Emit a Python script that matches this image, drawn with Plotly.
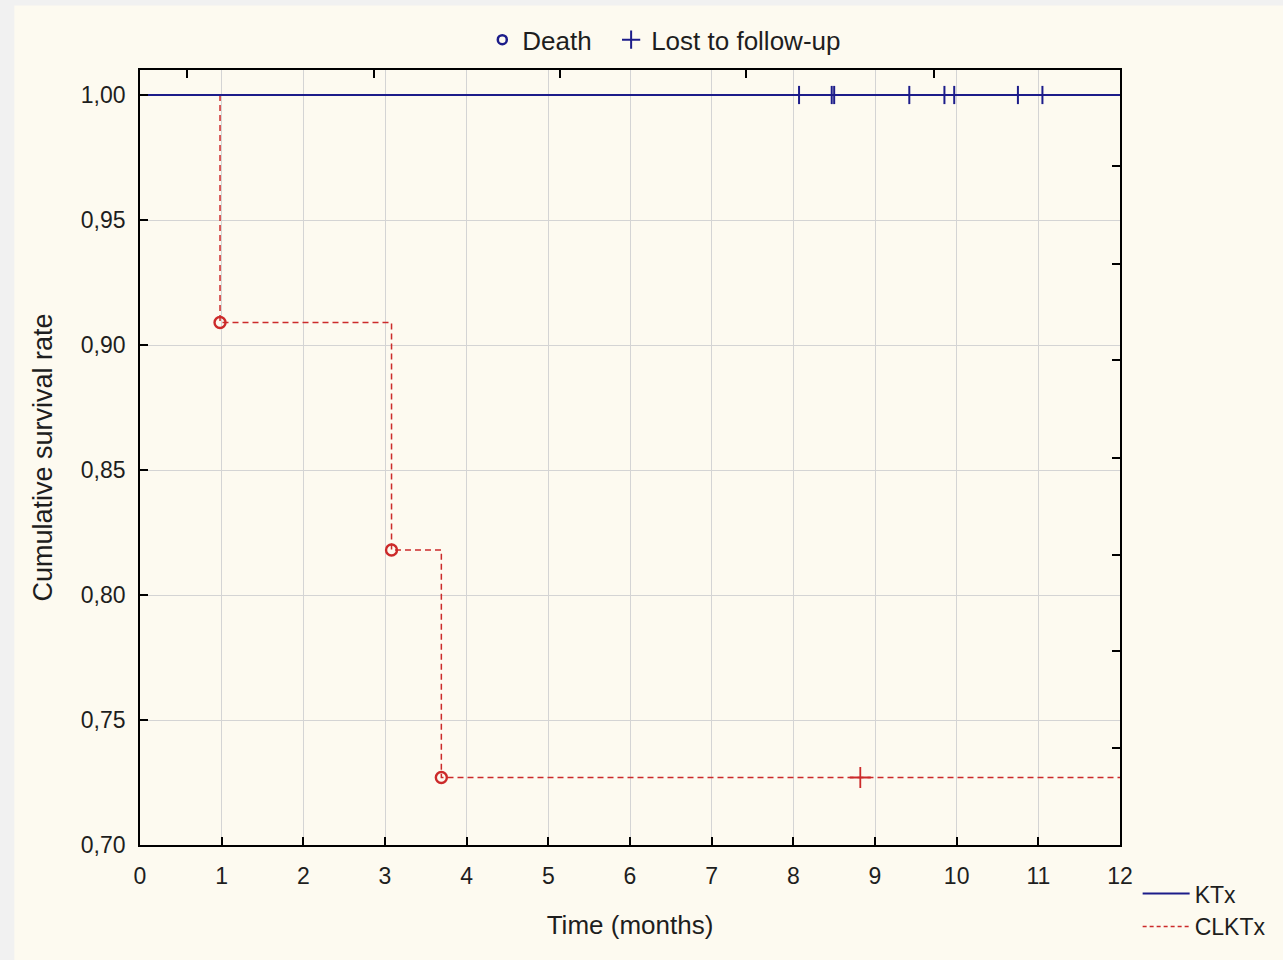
import plotly.graph_objects as go

# ---- data ----
ktx_time = [0, 12]
ktx_surv = [1.0, 1.0]
ktx_censor_time = [8.07, 8.47, 8.50, 9.42, 9.85, 9.97, 10.75, 11.05]
ktx_censor_surv = [1.0, 1.0, 1.0, 1.0, 1.0, 1.0, 1.0, 1.0]

clktx_time = [0, 0.98, 3.08, 3.69, 12]
clktx_surv = [1.0, 0.909, 0.818, 0.727, 0.727]
clktx_death_time = [0.98, 3.08, 3.69]
clktx_death_surv = [0.909, 0.818, 0.727]
clktx_censor_time = [8.82]
clktx_censor_surv = [0.727]

x_ticks = list(range(0, 13))
y_ticks = [0.70, 0.75, 0.80, 0.85, 0.90, 0.95, 1.00]
top_ticks = [0.57, 2.86, 5.14, 7.42, 9.72]
right_ticks = [0.9718, 0.9324, 0.8940, 0.8547, 0.8161, 0.7777, 0.7387]

NAVY = "#1c1c8a"
RED = "#cc2a2a"
TXT = "#1e1e1e"
FONT = "Liberation Sans, Arial, sans-serif"
NBSP = "\u00a0"

fig = go.Figure()

# CLKTx step line
fig.add_trace(go.Scatter(x=clktx_time, y=clktx_surv, mode="lines", line_shape="hv",
                         line=dict(color=RED, width=1.5, dash="6px,4px"),
                         showlegend=False))
# KTx line
fig.add_trace(go.Scatter(x=ktx_time, y=ktx_surv, mode="lines", line_shape="hv",
                         line=dict(color=NAVY, width=2),
                         showlegend=False))
# censor marks KTx
fig.add_trace(go.Scatter(x=ktx_censor_time, y=ktx_censor_surv, mode="markers",
                         marker=dict(symbol="line-ns", size=13, line=dict(color=NAVY, width=2)),
                         showlegend=False))
# deaths CLKTx
fig.add_trace(go.Scatter(x=clktx_death_time, y=clktx_death_surv, mode="markers",
                         marker=dict(symbol="circle-open", size=11, color=RED, line=dict(color=RED, width=2.4)),
                         showlegend=False))
# censor CLKTx
fig.add_trace(go.Scatter(x=clktx_censor_time, y=clktx_censor_surv, mode="markers",
                         marker=dict(symbol="cross-thin", size=15, line=dict(color=RED, width=1.8)),
                         showlegend=False))

# top legend entries
fig.add_trace(go.Scatter(x=[None], y=[None], mode="markers", name="Death" + NBSP * 2,
                         marker=dict(symbol="circle-open", size=9, color=NAVY, line=dict(color=NAVY, width=2.5)),
                         legend="legend"))
fig.add_trace(go.Scatter(x=[None], y=[None], mode="markers", name="Lost to follow-up",
                         marker=dict(symbol="cross-thin", size=13, line=dict(color=NAVY, width=2)),
                         legend="legend"))
# bottom-right legend entries
fig.add_trace(go.Scatter(x=[None], y=[None], mode="lines", name="KTx",
                         line=dict(color=NAVY, width=2), legend="legend2"))
fig.add_trace(go.Scatter(x=[None], y=[None], mode="lines", name="CLKTx",
                         line=dict(color=RED, width=1.5, dash="4px,3px"), legend="legend2"))

# secondary axes holder (for top / right ticks)
fig.add_trace(go.Scatter(x=[None], y=[None], xaxis="x2", yaxis="y2", showlegend=False, hoverinfo="skip"))

# background: gray outer strip + cream paper (14px left strip, 4px top strip)
fig.add_shape(type="rect", xref="paper", yref="paper", x0=-0.1283, x1=1.3, y0=-0.3, y1=1.0831,
              fillcolor="#fdfaf0", line=dict(width=0), layer="below")

fig.update_layout(
    width=1283, height=960, autosize=False,
    margin=dict(l=140, r=161, t=70, b=96),
    paper_bgcolor="#f1f1f1",
    plot_bgcolor="#ffffff",
    separators=", ",
    font=dict(family=FONT, size=23, color=TXT),
    xaxis=dict(range=[0, 12], tickvals=x_ticks, ticks="inside", ticklen=8, tickwidth=1.5,
               tickcolor="#000", showline=True, mirror=True, linecolor="#000", linewidth=1.6,
               showgrid=True, gridcolor="#d4d4d4", gridwidth=1, zeroline=False,
               ticklabelstandoff=10,
               tickfont=dict(size=23, color=TXT),
               title=dict(text="Time (months)", font=dict(size=26, color=TXT), standoff=27)),
    yaxis=dict(range=[0.70, 1.01], tickvals=y_ticks, tickformat=".2f", ticks="inside", ticklen=8,
               tickwidth=1.5, tickcolor="#000", showline=True, mirror=True, linecolor="#000",
               linewidth=1.6, showgrid=True, gridcolor="#d4d4d4", gridwidth=1, zeroline=False,
               ticklabelstandoff=8,
               tickfont=dict(size=23, color=TXT),
               title=dict(text="Cumulative survival rate", font=dict(size=27, color=TXT), standoff=20)),
    xaxis2=dict(range=[0, 12], overlaying="x", side="top", anchor="y2", tickvals=top_ticks,
                ticks="inside", ticklen=8, tickwidth=1.5, tickcolor="#000", showticklabels=False,
                showgrid=False, showline=False, zeroline=False),
    yaxis2=dict(range=[0.70, 1.01], overlaying="y", side="right", anchor="x2", tickvals=right_ticks,
                ticks="inside", ticklen=8, tickwidth=1.5, tickcolor="#000", showticklabels=False,
                showgrid=False, showline=False, zeroline=False),
    legend=dict(orientation="h", x=0.535, xanchor="center", y=1.039, yanchor="middle",
                bgcolor="rgba(0,0,0,0)", font=dict(size=26, color=TXT), itemwidth=30),
    legend2=dict(orientation="v", x=1.018, xanchor="left", y=-0.035, yanchor="top",
                 bgcolor="rgba(0,0,0,0)", font=dict(size=23, color=TXT), tracegroupgap=0,
                 itemwidth=47),
)

POST = (
    "document.documentElement.style.overflow='hidden';"
    "document.documentElement.style.height='960px';"
    "document.body.style.margin='0';"
    "document.body.style.overflow='hidden';"
    "document.body.style.height='960px';"
    "var d=document.getElementsByClassName('plotly-graph-div')[0];"
    "d.style.position='absolute';d.style.top='0px';d.style.left='0px';"
)

fig.write_html("out.html",
               config={"responsive": False, "displayModeBar": False},
               post_script=POST)
